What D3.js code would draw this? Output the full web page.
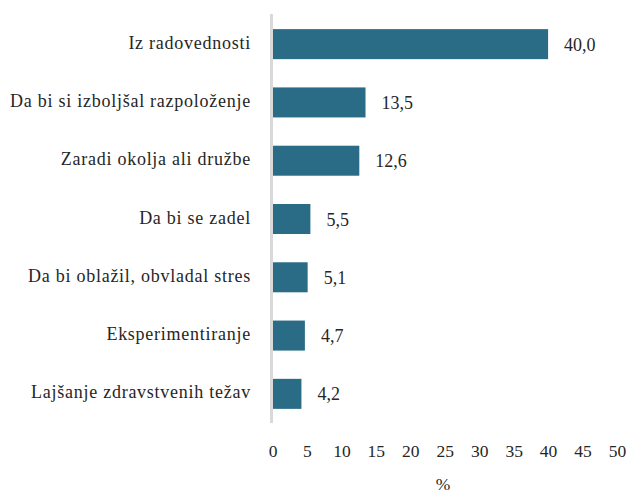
<!DOCTYPE html>
<html><head><meta charset="utf-8">
<script src="https://cdn.jsdelivr.net/npm/d3@7"></script>
<style>body{margin:0;background:#fff}svg{display:block}</style>
</head><body>
<script>
const categories = ["Iz radovednosti","Da bi si izboljšal razpoloženje","Zaradi okolja ali družbe","Da bi se zadel","Da bi oblažil, obvladal stres","Eksperimentiranje","Lajšanje zdravstvenih težav"];
const values = [40.0,13.5,12.6,5.5,5.1,4.7,4.2];
const ticks = [0,5,10,15,20,25,30,35,40,45,50];
const axisTitle = "%";

const FONT="'Liberation Serif', 'Times New Roman', serif";
const INK="#262626";
const W=629,H=493;
const svg=d3.select("body").append("svg").attr("width",W).attr("height",H);
const x=d3.scaleLinear().domain([0,50]).range([272.5,617]);
const y=d3.scaleBand().domain(categories).range([15,423]).paddingInner(0.485).paddingOuter(0.2425);
const fmt=v=>v.toFixed(1).replace(".",",");

svg.selectAll("rect.bar").data(values).join("rect").attr("class","bar")
  .attr("x",x(0)).attr("y",(d,i)=>y(categories[i])).attr("width",d=>x(d)-x(0))
  .attr("height",y.bandwidth()).attr("fill","#2a6c86");

svg.append("line").attr("x1",x(0)-1).attr("x2",x(0)-1).attr("y1",14).attr("y2",423)
  .attr("stroke","#d9d9d9").attr("stroke-width",3);

const cats=svg.selectAll("text.cat").data(categories).join("text").attr("class","cat")
  .attr("x",251).attr("y",d=>y(d)+y.bandwidth()/2+4.5)
  .attr("text-anchor","end").style("font-family",FONT).style("font-size","18px").attr("fill",INK).text(d=>d);
// fit letter-spacing so the longest label spans like the reference
const w0=cats.filter((d,i)=>i===1).node().getComputedTextLength();
const ls=Math.max(0,(241-w0)/(categories[1].length));
cats.style("letter-spacing",ls+"px");

svg.selectAll("text.val").data(values).join("text").attr("class","val")
  .attr("x",d=>x(d)+16).attr("y",(d,i)=>y(categories[i])+y.bandwidth()/2+6.5)
  .style("font-family",FONT).style("font-size","18px").attr("fill",INK).text(fmt);

const ax=svg.append("g").attr("transform","translate(0,457)")
  .call(d3.axisBottom(x).tickValues(ticks).tickSize(0).tickPadding(0).tickFormat(d=>d));
ax.select(".domain").remove();
ax.selectAll("text").attr("dy",0).style("font-family",FONT).style("font-size","17.5px").attr("fill",INK);

svg.append("text").attr("x",443).attr("y",490).attr("text-anchor","middle")
  .style("font-family",FONT).style("font-size","17.5px").attr("fill",INK).text(axisTitle);
</script>
</body></html>
